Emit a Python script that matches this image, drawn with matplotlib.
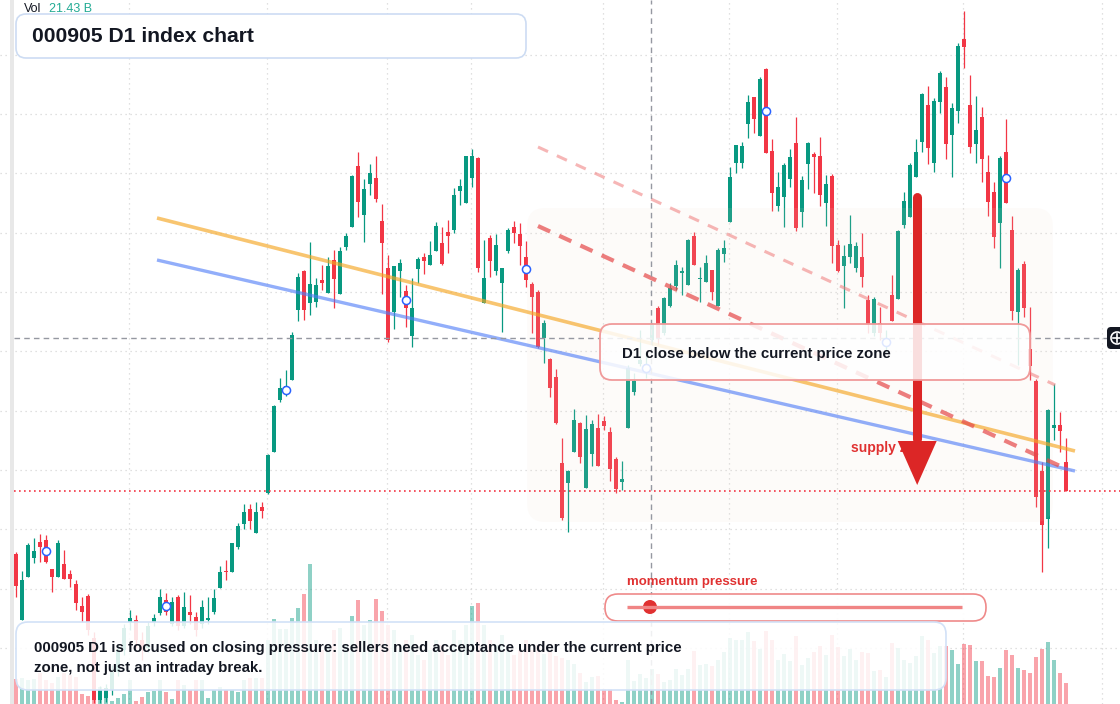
import matplotlib
matplotlib.use("Agg")
import matplotlib.pyplot as plt
import numpy as np
from matplotlib import transforms
from matplotlib.patches import FancyBboxPatch, Rectangle, Circle, Polygon

plt.rcParams['font.family'] = ['Liberation Sans', 'DejaVu Sans']

# daily candles (index points)
opens = [5797, 5731, 5774, 5793, 5809, 5811, 5782, 5774, 5787, 5777,
         5767, 5745, 5755, 5713, 5651, 5653, 5661, 5679, 5701, 5729,
         5731, 5711, 5703, 5729, 5738, 5751, 5727, 5754, 5725, 5739,
         5734, 5727, 5731, 5739, 5763, 5780, 5779, 5804, 5827, 5842,
         5818, 5844, 5858, 5899, 5951, 5958, 5971, 6041, 6080, 6048,
         6049, 6071, 6058, 6091, 6057, 6104, 6124, 6185, 6136, 6167,
         6173, 6130, 6083, 6039, 6080, 6060, 6015, 6082, 6094, 6086,
         6100, 6108, 6119, 6121, 6160, 6148, 6173, 6193, 6048, 6113,
         6080, 6068, 6100, 6124, 6117, 6094, 6067, 6059, 6013, 5992,
         5974, 5888, 5868, 5899, 5928, 5863, 5897, 5923, 5930, 5919,
         5892, 5869, 5923, 5959, 5987, 5979, 6011, 6043, 6018, 6045,
         6065, 6078, 6066, 6115, 6072, 6069, 6081, 6045, 6097, 6129,
         6188, 6188, 6227, 6254, 6215, 6282, 6200, 6145, 6154, 6172,
         6208, 6139, 6187, 6197, 6195, 6148, 6175, 6106, 6085, 6094,
         6083, 6094, 6051, 6018, 6028, 6006, 6056, 6052, 6126, 6134,
         6174, 6209, 6246, 6188, 6249, 6264, 6216, 6240, 6312, 6246,
         6207, 6234, 6179, 6159, 6128, 6199, 6121, 6039, 6087, 6002,
         5970, 5880, 5832, 5923, 5926, 5889]
highs = [5799, 5780, 5808, 5813, 5817, 5816, 5782, 5811, 5801, 5781,
         5771, 5754, 5757, 5719, 5665, 5667, 5686, 5706, 5727, 5741,
         5736, 5719, 5729, 5737, 5762, 5758, 5754, 5756, 5759, 5756,
         5739, 5751, 5754, 5762, 5785, 5791, 5808, 5828, 5847, 5847,
         5849, 5849, 5897, 5946, 5973, 5981, 6019, 6078, 6081, 6109,
         6073, 6086, 6094, 6101, 6104, 6118, 6176, 6199, 6172, 6187,
         6195, 6147, 6096, 6085, 6092, 6066, 6073, 6094, 6098, 6110,
         6129, 6124, 6131, 6163, 6172, 6195, 6202, 6194, 6111, 6116,
         6117, 6083, 6123, 6130, 6128, 6110, 6069, 6061, 6031, 5993,
         5982, 5913, 5881, 5942, 5929, 5936, 5931, 5937, 5935, 5924,
         5894, 5890, 5986, 5978, 6021, 5999, 6028, 6045, 6054, 6068,
         6091, 6084, 6112, 6119, 6084, 6096, 6081, 6103, 6111, 6184,
         6206, 6209, 6256, 6254, 6274, 6283, 6212, 6179, 6188, 6202,
         6234, 6175, 6209, 6199, 6214, 6176, 6177, 6111, 6106, 6136,
         6109, 6118, 6056, 6054, 6044, 6021, 6076, 6121, 6159, 6188,
         6212, 6258, 6265, 6253, 6280, 6274, 6248, 6308, 6340, 6276,
         6255, 6244, 6196, 6169, 6195, 6232, 6135, 6083, 6090, 6044,
         5972, 5889, 5942, 5967, 5939, 5913]
lows = [5754, 5731, 5774, 5788, 5789, 5788, 5759, 5774, 5772, 5764,
        5741, 5729, 5716, 5648, 5648, 5649, 5656, 5675, 5696, 5721,
        5703, 5691, 5699, 5725, 5736, 5736, 5725, 5721, 5723, 5727,
        5715, 5723, 5727, 5737, 5763, 5771, 5779, 5802, 5822, 5822,
        5818, 5833, 5857, 5899, 5949, 5955, 5971, 6030, 6031, 6036,
        6044, 6061, 6058, 6043, 6057, 6101, 6124, 6134, 6109, 6156,
        6149, 6057, 6009, 6022, 6054, 6024, 6004, 6068, 6077, 6086,
        6100, 6086, 6098, 6118, 6146, 6148, 6164, 6079, 6048, 6074,
        6076, 6019, 6098, 6108, 6086, 6064, 6018, 6003, 5988, 5954,
        5927, 5831, 5819, 5899, 5888, 5863, 5885, 5885, 5921, 5870,
        5858, 5861, 5923, 5956, 5985, 5973, 6006, 6006, 6016, 6044,
        6061, 6056, 6066, 6086, 6049, 6069, 6051, 6045, 6089, 6129,
        6178, 6183, 6213, 6218, 6215, 6198, 6140, 6140, 6124, 6164,
        6120, 6124, 6162, 6158, 6145, 6125, 6088, 6079, 6043, 6088,
        6079, 6064, 6018, 6015, 6011, 5999, 6030, 6052, 6123, 6134,
        6174, 6199, 6187, 6179, 6238, 6192, 6174, 6228, 6283, 6198,
        6188, 6169, 6135, 6103, 6083, 6148, 6031, 5986, 6034, 5971,
        5844, 5779, 5803, 5911, 5899, 5860]
closes = [5765, 5771, 5806, 5800, 5804, 5789, 5774, 5808, 5772, 5772,
          5748, 5739, 5721, 5651, 5661, 5663, 5679, 5701, 5723, 5733,
          5711, 5701, 5725, 5733, 5754, 5739, 5749, 5725, 5744, 5736,
          5721, 5744, 5733, 5753, 5779, 5779, 5808, 5825, 5839, 5830,
          5839, 5840, 5896, 5945, 5963, 5965, 6016, 6074, 6041, 6067,
          6066, 6068, 6085, 6072, 6100, 6115, 6175, 6149, 6162, 6178,
          6152, 6108, 6011, 6085, 6088, 6043, 6043, 6092, 6090, 6096,
          6125, 6087, 6115, 6156, 6165, 6195, 6195, 6083, 6073, 6090,
          6106, 6083, 6121, 6118, 6105, 6071, 6054, 6004, 6028, 5963,
          5928, 5833, 5880, 5931, 5894, 5922, 5927, 5885, 5925, 5882,
          5862, 5872, 5983, 5970, 5991, 5987, 6026, 6013, 6053, 6063,
          6086, 6080, 6111, 6086, 6073, 6088, 6059, 6101, 6103, 6174,
          6206, 6205, 6249, 6232, 6272, 6198, 6158, 6164, 6186, 6194,
          6123, 6171, 6208, 6194, 6156, 6167, 6105, 6080, 6095, 6107,
          6105, 6074, 6026, 6052, 6018, 6013, 6030, 6120, 6150, 6186,
          6199, 6257, 6203, 6250, 6278, 6207, 6243, 6305, 6304, 6204,
          6221, 6192, 6149, 6114, 6193, 6148, 6040, 6081, 6043, 5985,
          5854, 5826, 5941, 5926, 5920, 5860]
# volume, billions
volumes = [25, 26, 24, 25, 31, 24, 21, 27, 31, 29,
           27, 10, 8, 14, 17, 8, 3, 6, 10, 24,
           3, 7, 12, 13, 24, 12, 5, 24, 19, 14,
           24, 24, 6, 14, 17, 14, 14, 12, 24, 26,
           26, 26, 64, 85, 75, 75, 86, 96, 110, 140,
           64, 54, 59, 74, 76, 59, 88, 104, 79, 84,
           105, 93, 79, 74, 54, 64, 69, 49, 44, 54,
           64, 59, 49, 74, 64, 79, 98, 101, 79, 64,
           59, 69, 54, 49, 54, 64, 54, 59, 50, 52,
           48, 46, 44, 40, 31, 22, 27, 28, 15, 15,
           4, 2, 44, 23, 30, 26, 35, 30, 22, 24,
           35, 29, 35, 53, 39, 40, 38, 44, 52, 66,
           64, 64, 72, 63, 55, 73, 64, 44, 50, 43,
           68, 39, 46, 52, 58, 49, 69, 57, 48, 55,
           44, 52, 51, 33, 34, 27, 61, 56, 44, 41,
           48, 68, 64, 51, 58, 58, 54, 40, 60, 59,
           43, 43, 28, 27, 36, 54, 49, 36, 34, 31,
           47, 55, 62, 44, 31, 21.43]

marker_every = 20
# drawn levels / lines (bar index, price)
orange_line = [(23.5, 6133), (176.5, 5900)]
blue_line = [(23.5, 6091), (176.5, 5880)]
red_dash = [(87, 6125), (174, 5885)]
pink_dash = [(87, 6204), (173.2, 5966)]
zone = (85.2, 5829, 172.8, 6143)
arrow_x, arrow_top, arrow_tip = 150.2, 6154, 5866
cross_x, cross_y = 105.83, 6013
grid_idx = [18.8, 41.8, 61.8, 75.8, 97.8, 118.8, 136.8, 157.8, 181.0]
grid_prices = [5703, 5762, 5822, 5881, 5940, 6000, 6059, 6118, 6178, 6237, 6296]

o = np.array(opens, float)
h = np.array(highs, float)
l = np.array(lows, float)
c = np.array(closes, float)
v = np.array(volumes, float)
idx = np.arange(len(c))
up = c >= o
UP, DN = '#089981', '#f23645'
cols = np.where(up, UP, DN)

fig = plt.figure(figsize=(11.2, 7.04), dpi=100)
ax = fig.add_axes([0, 0, 1, 1])
axv = ax.twinx()
ax.set_zorder(2)
axv.set_zorder(1)
ax.patch.set_visible(False)

xlim = (-16 / 6, (1120 - 16) / 6)
ylim = (5647, 6351)

# grid
gkw = dict(color='#d6d6d6', lw=0.9, ls=(0, (1, 3)), zorder=0)
for gx in grid_idx:
    axv.axvline(gx, **gkw)
blend = transforms.blended_transform_factory(axv.transAxes, ax.transData)
for gp in grid_prices:
    axv.plot([0, 1], [gp, gp], transform=blend, **gkw)

# volume
axv.bar(idx, v, width=0.75, color=cols, alpha=0.45, zorder=1)

# candles
ax.vlines(idx, l, h, colors=cols, lw=0.9, zorder=3)
body = np.maximum(np.abs(c - o), 1.5)
ax.bar(idx, body, bottom=np.minimum(o, c) - (body - np.abs(c - o)) / 2,
       width=0.75, color=cols, zorder=3)

# supply zone
ax.add_patch(FancyBboxPatch((zone[0], zone[1]), zone[2] - zone[0], zone[3] - zone[1],
                            boxstyle='round,pad=0,rounding_size=3', mutation_aspect=6,
                            fc='#f0d9c8', ec='none', alpha=0.1, zorder=4))

# trend lines
ax.plot(*zip(*orange_line), color='#f5a623', alpha=0.65, lw=2.6, zorder=5,
        solid_capstyle='butt')
ax.plot(*zip(*blue_line), color='#4f7cf7', alpha=0.62, lw=2.4, zorder=5,
        solid_capstyle='butt')
ax.plot(*zip(*pink_dash), color='#f07a7a', alpha=0.55, lw=2.2, ls=(0, (3.6, 3.2)), zorder=5)
ax.plot(*zip(*red_dash), color='#e54848', alpha=0.7, lw=3.0, ls=(0, (3.2, 2.4)), zorder=5)

# crosshair and last price
ax.plot([-0.33, 181.8], [cross_y, cross_y], color='#9598a1', lw=1, ls=(0, (4, 3)), zorder=5)
ax.axvline(cross_x, color='#9598a1', lw=1, ls=(0, (4, 3)), zorder=5)
ax.axhline(c[-1], xmin=14 / 1120, color=DN, lw=1.2, ls=(0, (1, 2)), zorder=5)

# markers
mi = idx[5::marker_every]
ax.scatter(mi, (o[mi] + c[mi]) / 2, s=34, fc='white', ec='#2962ff', lw=1.1, zorder=6)

# supply label + arrow
ax.text(139.2, 5903, 'supply zone', color='#e03131', fontsize=10, fontweight='bold',
        va='center', ha='left', zorder=6)
ax.plot([arrow_x, arrow_x], [arrow_top, 5912], color='#dc2626', lw=6.5,
        solid_capstyle='round', zorder=7)
ax.add_patch(Polygon([(arrow_x - 3.25, 5910), (arrow_x + 3.25, 5910), (arrow_x, arrow_tip)],
                     closed=True, fc='#dc2626', ec='none', zorder=7))

for a in (ax, axv):
    a.set_xlim(*xlim)
    a.axis('off')
ax.set_ylim(*ylim)
axv.set_ylim(0, 704)

# overlay in pixel units
ov = fig.add_axes([0, 0, 1, 1], zorder=3)
ov.set_xlim(0, 1120)
ov.set_ylim(704, 0)
ov.axis('off')
ov.patch.set_visible(False)

ov.add_patch(Rectangle((10, 0), 3.5, 704, fc='#e8e8e8', ec='none'))
ov.text(24, 9, 'Vol', fontsize=9, color='#131722', va='center')
ov.text(49, 9, f'{volumes[-1]:.2f} B', fontsize=9, color='#22ab94', va='center')

ov.add_patch(FancyBboxPatch((16, 14), 510, 44, boxstyle='round,pad=0,rounding_size=10',
                            fc='white', ec='#cddcf3', lw=1.2))
ov.text(32, 36, '000905 D1 index chart', fontsize=15.2, fontweight='bold',
        color='#131722', va='center')

ov.add_patch(FancyBboxPatch((600, 324), 430, 56, boxstyle='round,pad=0,rounding_size=12',
                            fc=(1, 1, 1, 0.85), ec='#f09a9a', lw=1.3))
ov.text(622, 354, 'D1 close below the current price zone', fontsize=10.8,
        fontweight='bold', color='#131722', va='center')

ov.add_patch(FancyBboxPatch((605, 594), 381, 27, boxstyle='round,pad=0,rounding_size=13',
                            fc=(1, 1, 1, 0.92), ec='#ef8a8a', lw=1.2))
ov.plot([627, 962], [607, 607], color='#f08585', lw=2.4, solid_capstyle='butt')
ov.add_patch(Circle((650, 607), 7, fc='#e03131', ec='none'))
ov.text(627, 582, 'momentum pressure', fontsize=9.5, fontweight='bold',
        color='#e03131', va='center')

ov.add_patch(FancyBboxPatch((16, 622), 930, 68, boxstyle='round,pad=0,rounding_size=12',
                            fc=(1, 1, 1, 0.86), ec='#d2e1f7', lw=1.2))
ov.text(34, 648, '000905 D1 is focused on closing pressure: sellers need acceptance '
        'under the current price', fontsize=10.8, fontweight='bold', color='#131722',
        va='center')
ov.text(34, 668, 'zone, not just an intraday break.', fontsize=10.8, fontweight='bold',
        color='#131722', va='center')

# crosshair badge on the right edge
ov.add_patch(FancyBboxPatch((1107, 327), 22, 22, boxstyle='round,pad=0,rounding_size=4',
                            fc='#131722', ec='none'))
ov.add_patch(Circle((1117, 338), 6, fc='none', ec='white', lw=1.2))
ov.plot([1113, 1121], [338, 338], color='white', lw=1.2)
ov.plot([1117, 1117], [334, 342], color='white', lw=1.2)

fig.savefig('out.png', dpi=100)
